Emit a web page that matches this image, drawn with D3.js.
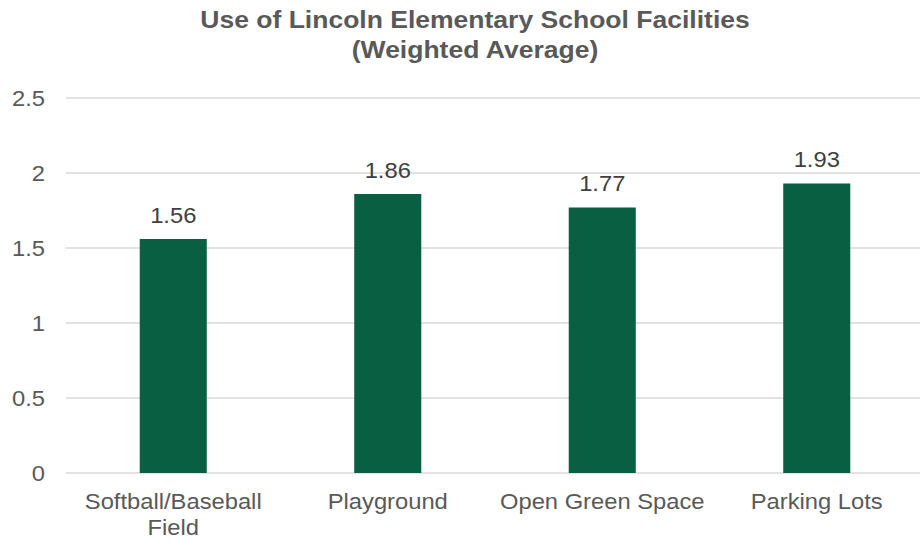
<!DOCTYPE html>
<html>
<head>
<meta charset="utf-8">
<script src="https://cdn.jsdelivr.net/npm/d3@7"></script>
<style>
  html, body { margin: 0; padding: 0; background: #ffffff; }
  svg { display: block; font-family: "Liberation Sans", Arial, sans-serif; }
</style>
</head>
<body>
<svg id="chart" width="920" height="542"></svg>
<script>
const categories = [["Softball/Baseball", "Field"], ["Playground"], ["Open Green Space"], ["Parking Lots"]];
const values = [1.56, 1.86, 1.77, 1.93];
const yTicks = [0, 0.5, 1, 1.5, 2, 2.5];
const titleLines = ["Use of Lincoln Elementary School Facilities", "(Weighted Average)"];

(function () {
const svg = d3.select("#chart");
const W = 920;
const pLeft = 66, pRight = 924, pTop = 98, pBottom = 473;
const FS = 22, SX = 1.08;        // label font size and horizontal stretch
const TFS = 24, TSX = 1.105;     // title font size and stretch

const x = d3.scaleBand()
  .domain(d3.range(categories.length))
  .range([pLeft, pRight])
  .paddingInner(0.6875)
  .paddingOuter(0.34375);
const y = d3.scaleLinear().domain([0, 2.5]).range([pBottom, pTop]);

function place(sel, px, py, sx) {
  return sel.attr("transform", (d, i) => `translate(${px(d, i)},${py(d, i)}) scale(${sx},1)`);
}

// title
place(svg.append("g").selectAll("text").data(titleLines).join("text"),
      () => 475, (d, i) => 28 + i * 30, TSX)
  .attr("text-anchor", "middle")
  .attr("fill", "#595959").attr("font-weight", "bold").attr("font-size", TFS)
  .text(d => d);

// gridlines
svg.append("g").selectAll("line").data(yTicks).join("line")
  .attr("x1", pLeft).attr("x2", W)
  .attr("y1", d => y(d)).attr("y2", d => y(d))
  .attr("stroke", "#d9d9d9").attr("stroke-width", 1.5);

// y axis labels
const yAxis = d3.axisLeft(y).tickValues(yTicks).tickSize(0).tickPadding(0)
  .tickFormat(d => d3.format("")(d));
const ga = svg.append("g").attr("transform", "translate(45,0)").call(yAxis);
ga.select(".domain").remove();
ga.selectAll("text")
  .attr("font-size", FS).attr("fill", "#595959")
  .attr("font-family", "Liberation Sans, Arial, sans-serif")
  .attr("x", null).attr("dy", "0.35em")
  .attr("transform", `scale(${SX},1)`);

// bars
svg.append("g").selectAll("rect").data(values).join("rect")
  .attr("x", (d, i) => x(i)).attr("width", x.bandwidth())
  .attr("y", d => y(d)).attr("height", d => y(0) - y(d))
  .attr("fill", "#085f42");

// value labels
place(svg.append("g").selectAll("text").data(values).join("text"),
      (d, i) => x(i) + x.bandwidth() / 2, d => y(d) - 16.5, SX)
  .attr("text-anchor", "middle").attr("font-size", FS).attr("fill", "#404040")
  .text(d => d3.format(".2f")(d));

// category labels
const cg = svg.append("g").selectAll("g").data(categories).join("g");
cg.each(function (d, i) {
  place(d3.select(this).selectAll("text").data(d).join("text"),
        () => x(i) + x.bandwidth() / 2, (t, j) => 509 + j * 26, SX)
    .attr("text-anchor", "middle").attr("font-size", FS).attr("fill", "#595959")
    .text(t => t);
});
})();
</script>
</body>
</html>
